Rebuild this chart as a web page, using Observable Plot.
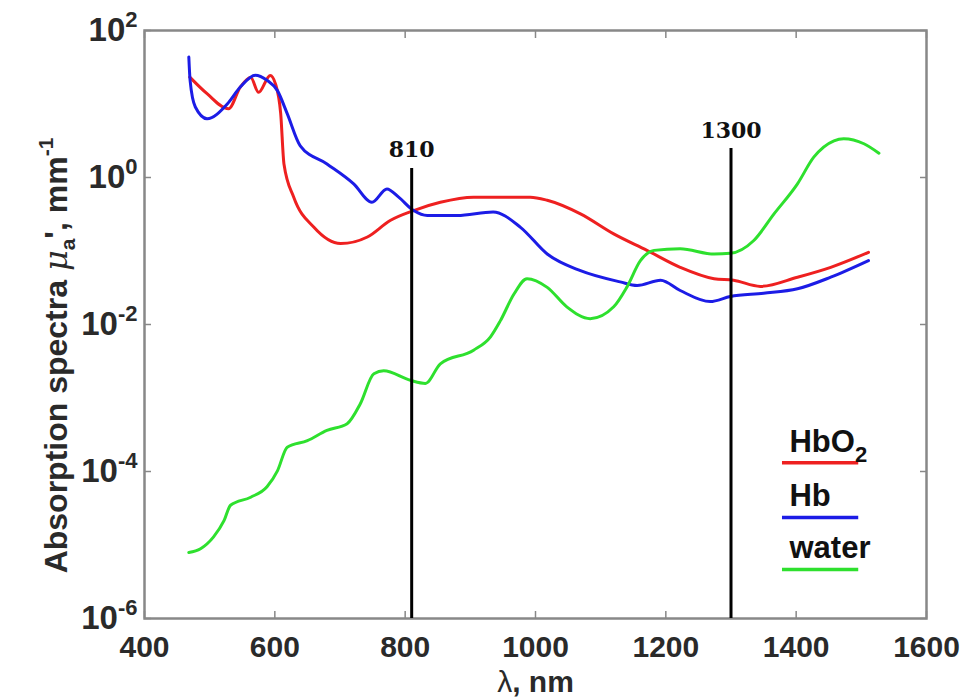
<!DOCTYPE html>
<html><head><meta charset="utf-8">
<script src="https://cdn.jsdelivr.net/npm/d3@7"></script>
<script src="https://cdn.jsdelivr.net/npm/@observablehq/plot@0.6"></script>
<style>body{margin:0;background:#fff}</style>
</head><body><div id="chart"></div>
<script>
// ---- data (absorption coefficient, mm^-1, vs wavelength, nm) ----
const hbo2Wavelength = [469.5, 496, 529, 547, 563, 575, 593, 601, 609, 614, 629, 660, 701, 742, 777, 813, 854, 905, 992, 1018, 1069, 1120, 1171, 1222, 1274, 1304, 1345, 1402, 1453, 1511];
const hbo2Absorption = [23.2, 13.8, 8.6, 17, 23, 14.4, 24.5, 18.8, 7.4, 1.53, 0.54, 0.21, 0.126, 0.155, 0.26, 0.355, 0.46, 0.54, 0.54, 0.49, 0.32, 0.171, 0.102, 0.060, 0.042, 0.040, 0.033, 0.044, 0.060, 0.096];

const hbWavelength = [468, 470, 478, 496, 527, 547, 570, 588, 604, 619, 639, 680, 721, 749, 772, 790, 813, 834, 880, 935, 977, 1018, 1069, 1130, 1156, 1192, 1222, 1268, 1299, 1350, 1402, 1453, 1511];
const hbAbsorption = [43.6, 20.8, 9.1, 6.3, 10, 17, 24.6, 21, 15.2, 7.4, 2.7, 1.53, 0.82, 0.46, 0.70, 0.54, 0.355, 0.304, 0.304, 0.34, 0.21, 0.091, 0.054, 0.038, 0.034, 0.040, 0.029, 0.0205, 0.024, 0.0266, 0.0306, 0.044, 0.074];

const waterWavelength = [468, 486, 506, 522, 532, 563, 588, 604, 619, 650, 680, 711, 731, 752, 767, 808, 831, 854, 905, 931, 946, 967, 987, 1018, 1048, 1084, 1120, 1140, 1161, 1182, 1222, 1274, 1299, 1335, 1366, 1402, 1427, 1458, 1473, 1504, 1527];
const waterAbsorption = [7.9e-6, 8.9e-6, 1.29e-5, 2.14e-5, 3.47e-5, 4.47e-5, 6.2e-5, 1.02e-4, 2.14e-4, 2.63e-4, 3.63e-4, 4.47e-4, 8.3e-4, 2.14e-3, 2.34e-3, 1.74e-3, 1.58e-3, 2.92e-3, 4.47e-3, 6.8e-3, 0.0112, 0.026, 0.042, 0.032, 0.0174, 0.012, 0.0174, 0.032, 0.074, 0.102, 0.107, 0.091, 0.093, 0.139, 0.32, 0.82, 1.89, 3.16, 3.37, 2.88, 2.14];

const seriesNames = ["HbO2", "Hb", "water"];
const seriesColors = ["#ee2020", "#1c1ce6", "#2ee02e"];

const markerWavelength = [810, 1300];
const markerTop = [1.33, 2.48];

const xTicks = [400, 600, 800, 1000, 1200, 1400, 1600];
const yTicks = [1e2, 1e0, 1e-2, 1e-4, 1e-6];

const yTitle = "Absorption spectra μa', mm-1";
const xTitle = "λ, nm";

// ---- build table ----
const rows = [];
[[hbo2Wavelength, hbo2Absorption], [hbWavelength, hbAbsorption], [waterWavelength, waterAbsorption]]
  .forEach(([w, a], k) => w.forEach((x, i) => rows.push({series: seriesNames[k], wavelength: x, absorption: a[i]})));
const markers = markerWavelength.map((w, i) => ({w, top: markerTop[i]}));

// legend placement (inside the frame, lower right)
const legendX = 1379, legendX2 = 1496;
const legendY = [1.32e-4, 2.37e-5, 4.65e-6];
const legend = seriesNames.map((s, i) => ({series: s, y: legendY[i]}));

const font = "'Liberation Sans', Arial, sans-serif";
const tickOpts = {tickSize: -7, tickFormat: () => "", stroke: "#888", strokeWidth: 1.5, label: null};

const chart = Plot.plot({
  width: 974, height: 699,
  marginLeft: 144, marginRight: 48, marginTop: 30, marginBottom: 81,
  x: {domain: [400, 1600], label: null},
  y: {type: "log", domain: [1e-6, 1e2], label: null},
  color: {domain: seriesNames, range: seriesColors},
  style: {fontFamily: font, background: "#fff", overflow: "visible"},
  marks: [
    Plot.axisX(xTicks, {anchor: "bottom", ...tickOpts}),
    Plot.axisX(xTicks, {anchor: "top", ...tickOpts}),
    Plot.axisY(yTicks, {anchor: "left", ...tickOpts}),
    Plot.axisY(yTicks, {anchor: "right", ...tickOpts}),
    Plot.axisX(xTicks, {anchor: "bottom", tickSize: 0, tickPadding: 17, fontSize: 30, fontWeight: "bold", fill: "#2a2a2a", label: null, tickFormat: d => String(d)}),
    Plot.axisY(yTicks, {anchor: "left", tickSize: 0, tickPadding: 7, fontSize: 33, fontWeight: "bold", fill: "#2a2a2a", label: null,
      tickFormat: d => "10^" + Math.round(Math.log10(d))}),
    Plot.frame({stroke: "#888", strokeWidth: 2.5}),
    Plot.line(rows, {x: "wavelength", y: "absorption", z: "series", stroke: "series", strokeWidth: 3, curve: "monotone-x"}),
    Plot.ruleX(markers, {x: "w", y1: "top", y2: 1e-6, stroke: "#000", strokeWidth: 3}),
    Plot.text(markers, {x: "w", y: "top", text: d => String(d.w), dy: -11, lineAnchor: "bottom",
      fontFamily: "'DejaVu Serif', serif", fontWeight: "bold", fontSize: 22, fill: "#111"}),
    Plot.ruleY(legend, {y: "y", x1: legendX, x2: legendX2, stroke: "series", strokeWidth: 3.5}),
    Plot.text(legend, {y: "y", x: legendX, text: "series", dx: 7, dy: -11, textAnchor: "start", lineAnchor: "bottom",
      fontSize: 31, fontWeight: "bold", fill: "#111"}),
    Plot.text([yTitle], {frameAnchor: "left", rotate: -90, dx: -78, dy: 31, textAnchor: "middle", lineAnchor: "bottom",
      fontSize: 32, fontWeight: "bold", fill: "#2a2a2a"}),
    Plot.text([xTitle], {frameAnchor: "bottom", dy: 73, lineAnchor: "bottom",
      fontSize: 30, fontWeight: "bold", fill: "#2a2a2a"})
  ]
});
document.getElementById("chart").appendChild(chart);

// ---- rich text (superscripts/subscripts) ----
const svg = d3.select(chart);
svg.selectAll("text").each(function() {
  const t = this.textContent;
  const s = d3.select(this);
  if (/^10\^/.test(t)) {
    const e = t.split("^")[1];
    s.text(null);
    s.append("tspan").text("10");
    s.append("tspan").attr("font-size", 22).attr("dy", -14).text(e);
  } else if (t === "HbO2") {
    s.text(null);
    s.append("tspan").text("HbO");
    s.append("tspan").attr("font-size", 22).attr("dy", 10).text("2");
  } else if (t === yTitle) {
    s.text(null);
    s.append("tspan").text("Absorption spectra ");
    s.append("tspan").attr("font-family", "'DejaVu Serif', serif").attr("font-style", "italic").attr("font-weight", "normal").text("μ");
    s.append("tspan").attr("font-size", 21).attr("dy", 8).text("a");
    s.append("tspan").attr("dy", -8).text("', mm");
    s.append("tspan").attr("font-size", 21).attr("dy", -14).text("-1");
  } else if (t === xTitle) {
    s.text(null);
    s.append("tspan").attr("font-weight", "normal").text("λ");
    s.append("tspan").text(", nm");
  }
});
</script>
</body></html>
